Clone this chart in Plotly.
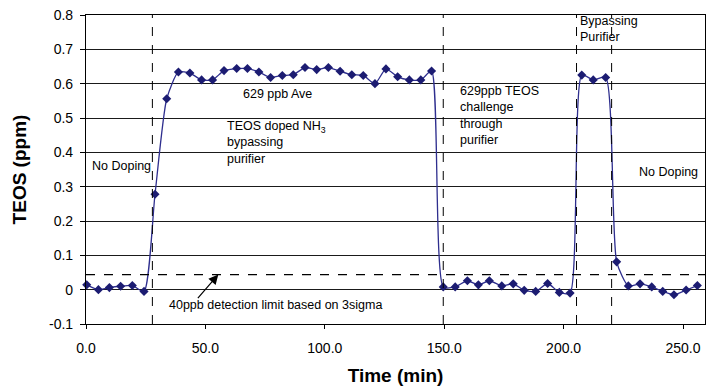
import plotly.graph_objects as go

# ---- data ----
time_min = [0.3, 5.2, 9.8, 14.5, 19.4, 24.3, 28.9, 33.8, 38.7, 43.5, 48.4, 53.0,
            57.8, 63.1, 67.6, 72.4, 77.3, 82.2, 86.8, 91.7, 96.6, 101.5, 106.4,
            111.3, 116.1, 121.0, 125.6, 130.5, 135.4, 140.2, 144.7, 149.6, 154.6,
            159.7, 164.3, 168.9, 174.1, 178.9, 183.5, 188.3, 193.3, 198.2, 202.7,
            207.6, 212.4, 217.6, 222.2, 227.1, 232.0, 236.9, 241.5, 246.2, 251.3, 256.0]
teos_ppm = [0.014, 0.000, 0.006, 0.010, 0.012, -0.005, 0.278, 0.556, 0.634, 0.631,
            0.611, 0.611, 0.638, 0.644, 0.644, 0.634, 0.618, 0.624, 0.626, 0.647,
            0.641, 0.647, 0.636, 0.626, 0.624, 0.600, 0.643, 0.620, 0.611, 0.611,
            0.637, 0.008, 0.008, 0.026, 0.014, 0.026, 0.011, 0.017, -0.002, -0.005,
            0.018, -0.008, -0.010, 0.625, 0.611, 0.618, 0.081, 0.011, 0.017, 0.008,
            -0.005, -0.015, -0.001, 0.012]
phase_boundaries = [27.8, 149.6, 205.4, 220.1]
detection_limit = 0.044
x_ticks = [0, 50, 100, 150, 200, 250]
x_ticktext = ["0.0", "50.0", "100.0", "150.0", "200.0", "250.0"]
y_ticks = [-0.1, 0, 0.1, 0.2, 0.3, 0.4, 0.5, 0.6, 0.7, 0.8]
y_ticktext = ["-0.1", "0", "0.1", "0.2", "0.3", "0.4", "0.5", "0.6", "0.7", "0.8"]

FONT = "Liberation Sans, Arial, sans-serif"

fig = go.Figure()
fig.add_trace(go.Scatter(
    x=time_min, y=teos_ppm, mode="lines+markers",
    line=dict(color="#2e2e8e", width=1.3, shape="spline", smoothing=0.6),
    marker=dict(symbol="diamond", size=7, color="#1c1c72"),
    showlegend=False, cliponaxis=False,
))

shapes = []
for xb in phase_boundaries:
    shapes.append(dict(type="line", xref="x", yref="paper", x0=xb, x1=xb, y0=0, y1=1,
                       line=dict(color="black", width=1, dash="dash")))
shapes.append(dict(type="line", xref="paper", yref="y", x0=0, x1=1,
                   y0=detection_limit, y1=detection_limit,
                   line=dict(color="black", width=1.2, dash="dash")))
fig.update_layout(shapes=shapes)

af = dict(family=FONT, size=12.5, color="black")
annos = [
    dict(x=1.9, y=0.361, text="No Doping"),
    dict(x=65.3, y=0.571, text="629 ppb Ave"),
    dict(x=58.5, y=0.429, text="TEOS doped NH<sub>3</sub><br>bypassing<br>purifier"),
    dict(x=156.0, y=0.506, text="629ppb TEOS<br>challenge<br>through<br>purifier"),
    dict(x=206.5, y=0.759, text="Bypassing<br>Purifier"),
    dict(x=231.0, y=0.344, text="No Doping"),
    dict(x=34.2, y=-0.046, text="40ppb detection limit based on 3sigma"),
]
ann_list = []
for a in annos:
    ann_list.append(dict(x=a["x"], y=a["y"], xref="x", yref="y", text=a["text"],
                         xanchor="left", yanchor="middle", align="left",
                         showarrow=False, font=af, borderpad=0))
ann_list.append(dict(x=55.4, y=detection_limit, ax=46.3, ay=-0.029,
                     xref="x", yref="y", axref="x", ayref="y", text="",
                     showarrow=True, arrowhead=2, arrowsize=1.6, arrowwidth=1.2,
                     arrowcolor="black"))
fig.update_layout(annotations=ann_list)

fig.update_layout(
    width=712, height=389,
    margin=dict(l=86, r=7, t=15, b=65),
    paper_bgcolor="white", plot_bgcolor="white",
    font=dict(family=FONT, size=14, color="black"),
    xaxis=dict(range=[0, 259.2], tickvals=x_ticks, ticktext=x_ticktext,
               showgrid=False, zeroline=False, showline=True, linecolor="black",
               linewidth=1.2, mirror=True, ticks="outside", ticklen=4,
               tickcolor="black", ticklabelstandoff=7,
               title=dict(text="<b>Time (min)</b>", font=dict(family=FONT, size=19),
                          standoff=13)),
    yaxis=dict(range=[-0.1, 0.8], tickvals=y_ticks, ticktext=y_ticktext,
               showgrid=True, gridcolor="#1a1a1a", gridwidth=1.3, zeroline=False,
               showline=True, linecolor="black", linewidth=1.2, mirror=True,
               ticks="outside", ticklen=5, tickcolor="black", ticklabelstandoff=4,
               title=dict(text="<b>TEOS (ppm)</b>", font=dict(family=FONT, size=19),
                          standoff=17)),
)

fig.write_html("out.html")
